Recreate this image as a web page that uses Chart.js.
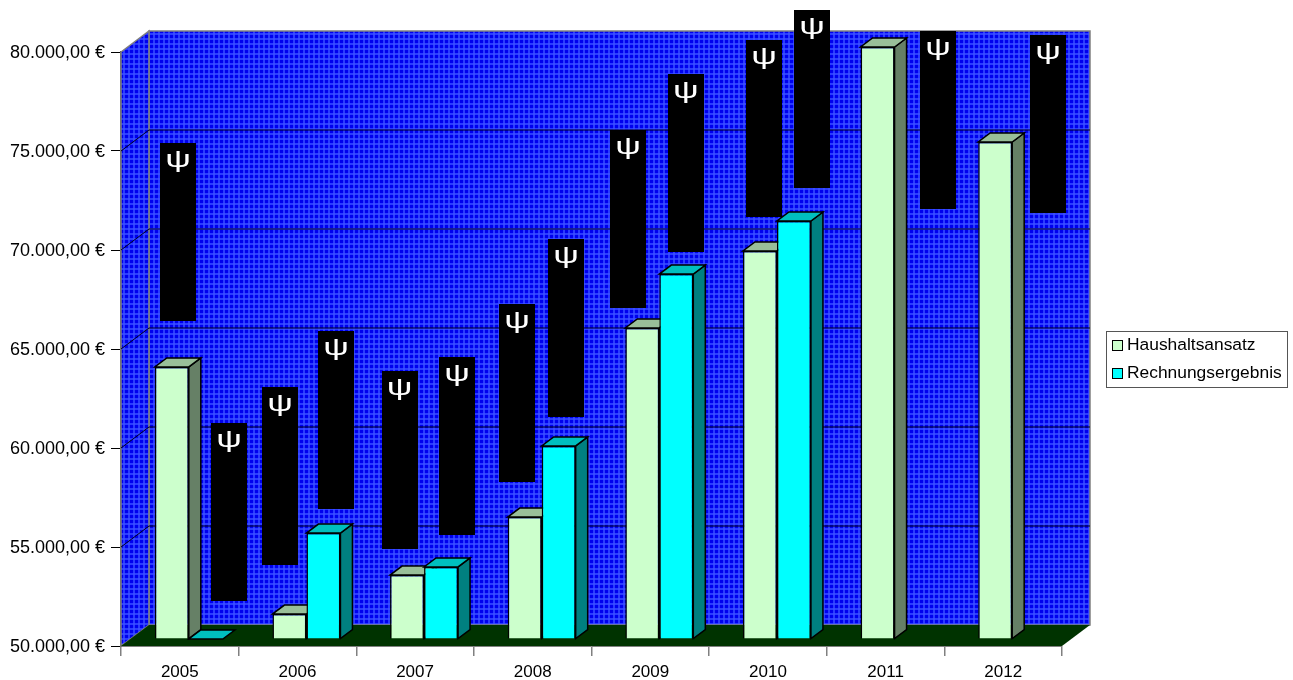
<!DOCTYPE html>
<html>
<head>
<meta charset="utf-8">
<title>Haushaltsansatz / Rechnungsergebnis</title>
<script src="https://cdn.jsdelivr.net/npm/chart.js@4"></script>
<style>
  body { margin: 0; background: #fff; }
  canvas { display: block; }
</style>
</head>
<body>
<canvas id="chart" width="1293" height="680"></canvas>
<script>
const years = ['2005', '2006', '2007', '2008', '2009', '2010', '2011', '2012'];
const haushaltsansatz = [63740, 51260, 53230, 56160, 65710, 69600, 79900, 75100];
const rechnungsergebnis = [50000, 55350, 53640, 59750, 68430, 71110, null, null];

// schwarze Datenbeschriftungen: Lage auf der Kategorieachse (Index), Ober- und Unterkante in Euro
const labelPos = [-0.015, 0.418, 0.852, 1.328, 1.868, 2.357, 2.867, 3.283, 3.810, 4.303, 4.967, 5.375, 6.446, 7.381];
const labelTop = [75400, 61260, 63080, 65910, 63890, 64600, 67270, 70560, 76060, 78890, 80610, 82120, 81060, 80860];
const labelBottom = [66410, 52270, 54090, 56920, 54900, 55610, 58280, 61570, 67070, 69900, 71670, 73130, 72070, 71870];
const labelGlyph = 'ψ';

const FONT = '"Liberation Sans", Arial, sans-serif';
const DEPTH_X = 28, DEPTH_Y = 21;      // Wandtiefe
const BAR_DX = 9, BAR_DY = 7;          // Versatz der Säulen in der Tiefe
const SIDE_X = 12, SIDE_Y = 9;         // Tiefe der Säulen
const LABEL_W = 36;

const fmtEuro = v => v.toLocaleString('de-DE', { minimumFractionDigits: 2, maximumFractionDigits: 2 }) + ' €';

function wallPattern(ctx) {
  const c = document.createElement('canvas');
  c.width = 5; c.height = 5;
  const p = c.getContext('2d');
  p.fillStyle = '#2a3cff';
  p.fillRect(0, 0, 5, 5);
  p.fillStyle = '#0000ee';
  p.fillRect(0, 0, 3, 3);
  p.fillStyle = '#3a4cff';
  p.fillRect(3, 3, 2, 2);
  return ctx.createPattern(c, 'repeat');
}

function poly(ctx, pts, fill, stroke, lw) {
  ctx.beginPath();
  pts.forEach((p, i) => i ? ctx.lineTo(p[0], p[1]) : ctx.moveTo(p[0], p[1]));
  ctx.closePath();
  if (fill) { ctx.fillStyle = fill; ctx.fill(); }
  if (stroke) { ctx.strokeStyle = stroke; ctx.lineWidth = lw || 1; ctx.stroke(); }
}

/* Wände und Boden */
const wallsPlugin = {
  id: 'walls',
  beforeDatasetsDraw(chart) {
    const { ctx, chartArea: a, scales: { y } } = chart;
    const pat = wallPattern(ctx);
    ctx.save();
    poly(ctx, [[a.left + DEPTH_X, a.top - DEPTH_Y], [a.right + DEPTH_X, a.top - DEPTH_Y], [a.right + DEPTH_X, a.bottom - DEPTH_Y], [a.left + DEPTH_X, a.bottom - DEPTH_Y]], pat, '#808080', 1.5);
    poly(ctx, [[a.left, a.top], [a.left + DEPTH_X, a.top - DEPTH_Y], [a.left + DEPTH_X, a.bottom - DEPTH_Y], [a.left, a.bottom]], pat, '#808080', 1.5);
    y.ticks.forEach(t => {
      if (t.value === y.min || t.value === y.max) return;
      const py = y.getPixelForValue(t.value);
      ctx.beginPath();
      ctx.moveTo(a.left, py);
      ctx.lineTo(a.left + DEPTH_X, py - DEPTH_Y);
      ctx.lineTo(a.right + DEPTH_X, py - DEPTH_Y);
      ctx.strokeStyle = '#000020';
      ctx.lineWidth = 1;
      ctx.stroke();
    });
    poly(ctx, [[a.left, a.bottom], [a.left + DEPTH_X, a.bottom - DEPTH_Y], [a.right + DEPTH_X, a.bottom - DEPTH_Y], [a.right, a.bottom]], '#003300');

    // Seiten und Deckel: erst Haushaltsansatz, dann Rechnungsergebnis
    [0, 1].forEach(di => {
      const ds = chart.data.datasets[di];
      chart.getDatasetMeta(di).data.forEach((bar, i) => {
        if (ds.data[i] == null) return;
        const { x, y: top, base, width } = bar.getProps(['x', 'y', 'base', 'width']);
        const l = x - width / 2 + BAR_DX, r = x + width / 2 + BAR_DX;
        const t = top - BAR_DY, b = base - BAR_DY;
        if (t < b) poly(ctx, [[r, t], [r + SIDE_X, t - SIDE_Y], [r + SIDE_X, b - SIDE_Y], [r, b]], ds.sideColor, '#000', 1.5);
        poly(ctx, [[l, t], [r, t], [r + SIDE_X, t - SIDE_Y], [l + SIDE_X, t - SIDE_Y]], ds.topColor, '#000', 1.5);
      });
    });
    ctx.restore();
  },
  beforeDatasetDraw(chart) {
    chart.ctx.save();
    chart.ctx.translate(BAR_DX, -BAR_DY);
  },
  afterDatasetDraw(chart) {
    chart.ctx.restore();
  },
  afterDatasetsDraw(chart) {
    const { ctx, scales: { x, y } } = chart;
    ctx.save();
    ctx.textAlign = 'center';
    ctx.textBaseline = 'middle';
    labelPos.forEach((p, i) => {
      const cx = x.getPixelForValue(p);
      const top = y.getPixelForValue(labelTop[i]);
      const bottom = y.getPixelForValue(labelBottom[i]);
      ctx.fillStyle = '#000';
      ctx.fillRect(Math.round(cx - LABEL_W / 2), Math.round(top), LABEL_W, Math.round(bottom - top));
      ctx.save();
      ctx.translate(cx, top + 17);
      ctx.scale(1.5, 1);
      ctx.fillStyle = '#fff';
      ctx.font = '24px ' + FONT;
      ctx.fillText(labelGlyph, 0, 0);
      ctx.restore();
    });
    ctx.restore();
  }
};

/* Legende mit Rahmen */
const legendPlugin = {
  id: 'boxLegend',
  afterDraw(chart) {
    const { ctx } = chart;
    ctx.save();
    ctx.fillStyle = '#fff';
    ctx.fillRect(1106, 331, 181, 56);
    ctx.strokeStyle = '#555';
    ctx.lineWidth = 1;
    ctx.strokeRect(1106.5, 331.5, 181, 56);
    ctx.font = '17.4px ' + FONT;
    ctx.textBaseline = 'middle';
    [0, 1].forEach(i => {
      const ds = chart.data.datasets[i];
      const cy = 345 + i * 28;
      ctx.fillStyle = ds.backgroundColor;
      ctx.fillRect(1113, cy - 4, 9, 9);
      ctx.strokeStyle = '#000';
      ctx.strokeRect(1112.5, cy - 4.5, 10, 10);
      ctx.fillStyle = '#000';
      ctx.fillText(ds.label, 1127, cy);
    });
    ctx.restore();
  }
};

new Chart(document.getElementById('chart'), {
  type: 'bar',
  data: {
    labels: years,
    datasets: [
      { label: 'Haushaltsansatz', data: haushaltsansatz, base: 50000, backgroundColor: '#ccffcc', topColor: '#99bf99', sideColor: '#668066', borderColor: '#000', borderWidth: 1.5, clip: false },
      { label: 'Rechnungsergebnis', data: rechnungsergebnis, base: 50000, backgroundColor: '#00ffff', topColor: '#00bfbf', sideColor: '#008080', borderColor: '#000', borderWidth: 1.5, clip: false }
    ]
  },
  options: {
    responsive: false,
    animation: false,
    devicePixelRatio: 1,
    categoryPercentage: 0.578,
    barPercentage: 1,
    layout: { padding: { top: 52, right: 231, left: 0, bottom: 0 } },
    plugins: { legend: { display: false }, tooltip: { enabled: false } },
    scales: {
      x: {
        grid: { drawOnChartArea: false, color: '#808080', tickLength: 10, lineWidth: 1.5 },
        border: { color: '#808080', width: 1 },
        ticks: { color: '#000', font: { family: FONT, size: 17 }, padding: 6, maxRotation: 0 },
        afterFit(s) { s.height = 34; }
      },
      y: {
        min: 50000,
        max: 80000,
        beginAtZero: false,
        ticks: { stepSize: 5000, color: '#000', font: { family: FONT, size: 18 }, padding: 6, labelOffset: 1, callback: v => fmtEuro(v) },
        grid: { drawOnChartArea: false, color: '#000', tickLength: 10 },
        border: { color: '#555', width: 2 },
        afterFit(s) { s.width = 121; }
      }
    }
  },
  plugins: [wallsPlugin, legendPlugin]
});
</script>
</body>
</html>
